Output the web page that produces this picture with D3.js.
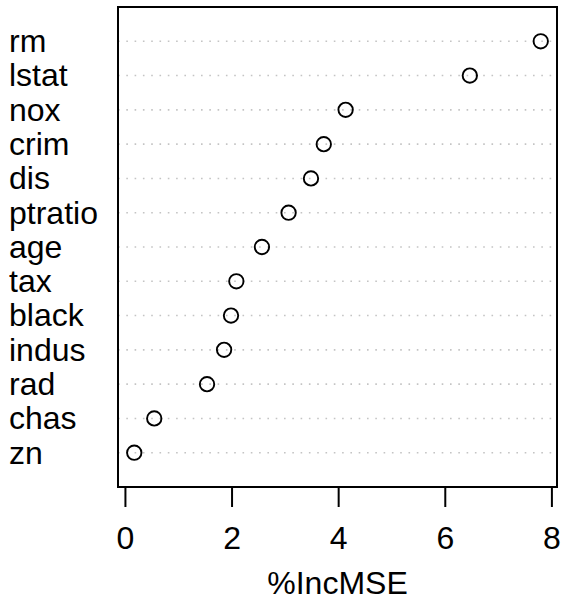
<!DOCTYPE html>
<html>
<head>
<meta charset="utf-8">
<script src="https://cdn.jsdelivr.net/npm/d3@7"></script>
<style>
  html, body { margin: 0; padding: 0; background: #fff; }
  svg { display: block; }
  text { font-family: "Liberation Sans", Arial, Helvetica, sans-serif; fill: #000; }
</style>
</head>
<body>
<svg id="chart" width="563" height="601"></svg>
<script>
// Variable importance (%IncMSE), sorted from most to least important
const variables = ["rm", "lstat", "nox", "crim", "dis", "ptratio", "age", "tax", "black", "indus", "rad", "chas", "zn"];
const incMSE = [7.80, 6.47, 4.14, 3.73, 3.49, 3.07, 2.57, 2.09, 1.99, 1.86, 1.54, 0.55, 0.175];
const xTicks = [0, 2, 4, 6, 8];
const xTitle = "%IncMSE";

const box = { left: 118, right: 557, top: 7, bottom: 487 };
const fontSize = 32;

const svg = d3.select("#chart");
const n = variables.length;

// x range padded by 4% on each side, like a base-graphics dot chart
const lo = d3.min(incMSE), hi = d3.max(incMSE);
const pad = (hi - lo) * 0.04;
const x = d3.scaleLinear().domain([lo - pad, hi + pad]).range([box.left, box.right]);

// rows: first variable at top; positions 1..n counted from bottom within [0, n+1]
const y = d3.scaleLinear().domain([0, n + 1]).range([box.bottom, box.top]);
const rowY = (i) => y(n - i);

// dotted guide lines
svg.append("g")
  .selectAll("line")
  .data(variables)
  .join("line")
  .attr("x1", box.left)
  .attr("x2", box.right)
  .attr("y1", (d, i) => rowY(i))
  .attr("y2", (d, i) => rowY(i))
  .attr("stroke", "#c4c4c4")
  .attr("stroke-width", 1.6)
  .attr("stroke-dasharray", "1.6 6.7");

// points
svg.append("g")
  .selectAll("circle")
  .data(incMSE)
  .join("circle")
  .attr("cx", d => x(d))
  .attr("cy", (d, i) => rowY(i))
  .attr("r", 7.2)
  .attr("fill", "none")
  .attr("stroke", "#000")
  .attr("stroke-width", 1.9);

// plot box
svg.append("rect")
  .attr("x", box.left)
  .attr("y", box.top)
  .attr("width", box.right - box.left)
  .attr("height", box.bottom - box.top)
  .attr("fill", "none")
  .attr("stroke", "#000")
  .attr("stroke-width", 2);

// row labels, left aligned
svg.append("g")
  .selectAll("text")
  .data(variables)
  .join("text")
  .attr("x", 9)
  .attr("y", (d, i) => rowY(i) + fontSize * 0.34)
  .attr("font-size", fontSize)
  .text(d => d);

// bottom axis
const axis = d3.axisBottom(x)
  .tickValues(xTicks)
  .tickSize(20)
  .tickPadding(19)
  .tickFormat(d3.format("d"));

const gx = svg.append("g")
  .attr("transform", `translate(0,${box.bottom})`)
  .call(axis);
gx.select(".domain")
  .attr("d", `M${x(xTicks[0])},0H${x(xTicks[xTicks.length - 1])}`)
  .attr("stroke-width", 2);
gx.selectAll(".tick line").attr("stroke-width", 2);
gx.selectAll(".tick text")
  .attr("font-size", fontSize)
  .attr("dy", null)
  .attr("y", 62)
  .attr("font-family", "Liberation Sans, Arial, Helvetica, sans-serif");

// axis title
svg.append("text")
  .attr("x", (box.left + box.right) / 2)
  .attr("y", 594)
  .attr("text-anchor", "middle")
  .attr("font-size", fontSize)
  .text(xTitle);
</script>
</body>
</html>
